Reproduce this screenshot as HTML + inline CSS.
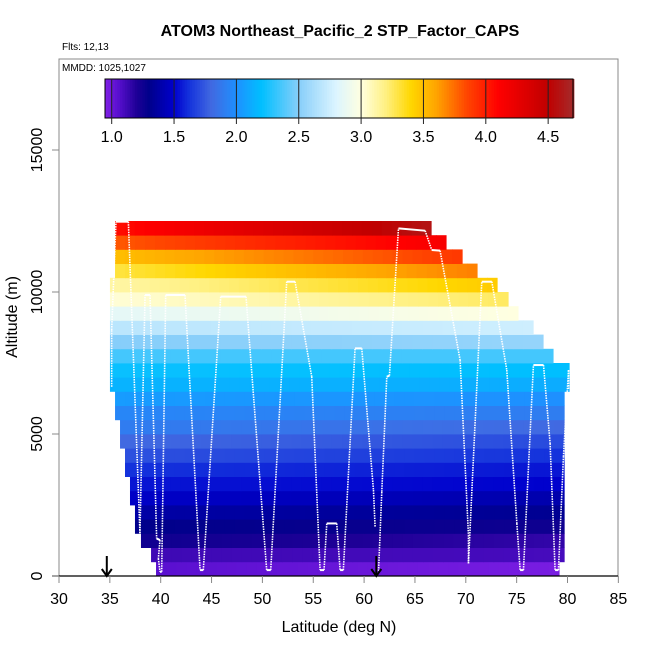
<!DOCTYPE html>
<html><head><meta charset="utf-8"><style>
body{margin:0;background:#fff}
svg{display:block;font-family:"Liberation Sans",sans-serif}
</style></head><body>
<svg id="chart" width="650" height="650" viewBox="0 0 650 650" xmlns="http://www.w3.org/2000/svg">
<rect width="650" height="650" fill="#fff"/>
<text x="340" y="36" text-anchor="middle" font-size="16" font-weight="bold">ATOM3 Northeast_Pacific_2 STP_Factor_CAPS</text>
<text x="62" y="50" font-size="10">Flts: 12,13</text>
<g id="field"></g>
<g id="track"></g>
<rect x="59" y="59" width="559" height="517" fill="none" stroke="#888" stroke-width="1"/>
<text x="62" y="71" font-size="10">MMDD: 1025,1027</text>
<g id="cbar"></g>
<g id="axes"></g>
<text x="339" y="632" text-anchor="middle" font-size="16">Latitude (deg N)</text>
<text transform="translate(17,317) rotate(-90)" text-anchor="middle" font-size="16">Altitude (m)</text>
</svg>
<script>
const xTicks=[30,35,40,45,50,55,60,65,70,75,80,85];
const yTicks=[0,5000,10000,15000];
const cbTicks=[1.0,1.5,2.0,2.5,3.0,3.5,4.0,4.5];
const bandBottoms=[0,500,1000,1500,2000,2500,3000,3500,4000,4500,5000,5500,6000,6500,7000,7500,8000,8500,9000,9500,10000,10500,11000,11500,12000];
const bandLeftLat=[39.54,39.05,38.06,37.47,37.47,36.98,36.98,36.49,36.49,36.0,36.0,35.51,35.51,35.01,35.01,35.01,35.01,35.01,35.01,35.01,35.01,35.51,35.51,35.51,35.51];
const bandRightLat=[79.16,79.66,79.66,79.66,79.66,79.66,79.66,79.66,79.66,79.66,79.66,79.66,79.66,80.15,80.15,78.57,77.59,76.61,75.13,74.15,73.07,71.10,69.63,68.05,66.58];
const bandLeftVal=[1.05,1.12,1.25,1.3,1.38,1.48,1.55,1.62,1.72,1.8,1.9,1.95,2.05,2.15,2.22,2.35,2.5,2.68,2.85,3.02,3.12,3.3,3.5,3.8,4.05];
const bandRightVal=[0.97,1.1,1.15,1.25,1.32,1.4,1.5,1.55,1.62,1.7,1.8,1.9,2.0,2.12,2.2,2.35,2.55,2.75,3.0,3.25,3.45,3.7,3.9,4.15,4.6];
const trackLat=[35.18,35.18,35.60,36.82,37.96,38.46,38.95,39.60,39.93,39.77,39.93,40.10,40.49,42.39,43.87,44.19,45.90,48.39,50.42,50.82,52.39,53.21,54.85,55.67,56.06,56.33,57.31,57.64,57.96,59.11,59.77,60.92,61.08];
const trackAlt=[6665,8661,12476,12476,1500,9893,9893,1323,1264,617,149,149,9893,9893,208,208,9835,9835,208,208,10363,10363,7017,208,208,1851,1851,208,208,8015,8015,3025,1734];
const track2Lat=[61.41,61.74,62.23,62.49,63.38,66.00,66.65,67.47,69.44,70.26,70.26,71.57,72.56,74.03,75.02,75.34,75.67,76.65,77.64,78.29,78.78,79.11,79.60,80.10,80.10];
const track2Alt=[91,2967,7017,7052,12241,12159,11478,11455,7604,1440,443,10363,10363,7252,1851,208,208,7428,7428,4669,208,208,4200,7252,6547];
const arrowLats=[34.7,61.2];

const NS='http://www.w3.org/2000/svg';
const X=v=>59+(v-30)*10.17;
const Y=v=>576-v*0.0284;
const CB=v=>111.7+(v-1)*124.7;
const stops=[[0.95,[128,32,230]],[1.05,[90,16,208]],[1.2,[30,0,150]],[1.3,[0,0,139]],[1.5,[0,0,205]],[1.62,[20,50,220]],[1.8,[65,105,225]],[2.0,[30,144,255]],[2.2,[0,191,255]],[2.5,[135,206,250]],[2.8,[220,245,255]],[3.0,[255,255,224]],[3.2,[255,240,128]],[3.4,[255,215,0]],[3.6,[255,165,0]],[3.85,[255,69,0]],[4.1,[255,0,0]],[4.5,[192,0,0]],[4.7,[165,42,42]]];
function col(v){
  if(v<=stops[0][0])return 'rgb('+stops[0][1]+')';
  for(let i=1;i<stops.length;i++){if(v<=stops[i][0]){const a=stops[i-1],b=stops[i];const t=(v-a[0])/(b[0]-a[0]);
    return 'rgb('+a[1].map((c,k)=>Math.round(c+(b[1][k]-c)*t)).join(',')+')';}}
  return 'rgb('+stops[stops.length-1][1]+')';
}
function mk(tag,attrs,parent){const e=document.createElementNS(NS,tag);for(const k in attrs)e.setAttribute(k,attrs[k]);parent.appendChild(e);return e;}

const field=document.getElementById('field');
bandBottoms.forEach((b,i)=>{
  const l=bandLeftLat[i],r=bandRightLat[i];const n=Math.ceil(r-l);
  for(let j=0;j<n;j++){
    const a=l+(r-l)*j/n,c=l+(r-l)*(j+1)/n;const t=(j+0.5)/n;
    const v=bandLeftVal[i]+(bandRightVal[i]-bandLeftVal[i])*t;
    const e=mk('rect',{x:X(a),y:Y(b+500),width:X(c)-X(a)+0.6,height:Y(b)-Y(b+500)+0.4,fill:col(v)},field);
    
    
  }
});

const track=document.getElementById('track');
function drawTrack(lats,alts){
  for(let i=1;i<lats.length;i++){
    const flat=Math.abs(alts[i]-alts[i-1])<300;
    const e=mk('line',{x1:X(lats[i-1]),y1:Y(alts[i-1]),x2:X(lats[i]),y2:Y(alts[i]),stroke:'#fff','stroke-width':flat?2:1.6,'stroke-dasharray':flat?'none':'1.5,1','stroke-linecap':'butt'},track);
    
    
  }
}
drawTrack(trackLat,trackAlt);
drawTrack(track2Lat,track2Alt);

const axes=document.getElementById('axes');
const base=mk('line',{x1:52,y1:576,x2:618,y2:576,stroke:'#000','stroke-width':1.2},axes);

xTicks.forEach(t=>{
  const l=mk('line',{x1:X(t),y1:576,x2:X(t),y2:583,stroke:'#888'},axes);
  
  const tx=mk('text',{x:X(t),y:604,'text-anchor':'middle','font-size':16},axes);tx.textContent=t;
  
});
yTicks.forEach(t=>{
  const l=mk('line',{x1:52,y1:Y(t),x2:59,y2:Y(t),stroke:'#888'},axes);
  
  const tx=mk('text',{transform:'translate(42,'+Y(t)+') rotate(-90)','text-anchor':'middle','font-size':16},axes);tx.textContent=t;
  
});
arrowLats.forEach(a=>{
  const g=mk('g',{},axes);
  
  mk('line',{x1:X(a),y1:556,x2:X(a),y2:576,stroke:'#000','stroke-width':2},g);
  mk('polyline',{points:(X(a)-5)+',569 '+X(a)+',576 '+(X(a)+5)+',569',fill:'none',stroke:'#000','stroke-width':2},g);
});

const cbar=document.getElementById('cbar');
for(let v=0.946;v<4.7;v+=0.02){
  const e=mk('rect',{x:CB(v),y:79,width:124.7*0.02+0.5,height:39,fill:col(v+0.01)},cbar);
  
}
const cbf=mk('rect',{x:105,y:79,width:468,height:39,fill:'none',stroke:'#000'},cbar);

cbTicks.forEach(t=>{
  const l=mk('line',{x1:CB(t),y1:79,x2:CB(t),y2:124,stroke:'#222','stroke-width':1},cbar);
  
  const tx=mk('text',{x:CB(t),y:142,'text-anchor':'middle','font-size':16},cbar);tx.textContent=t.toFixed(1);
  
});
</script>
</body></html>
